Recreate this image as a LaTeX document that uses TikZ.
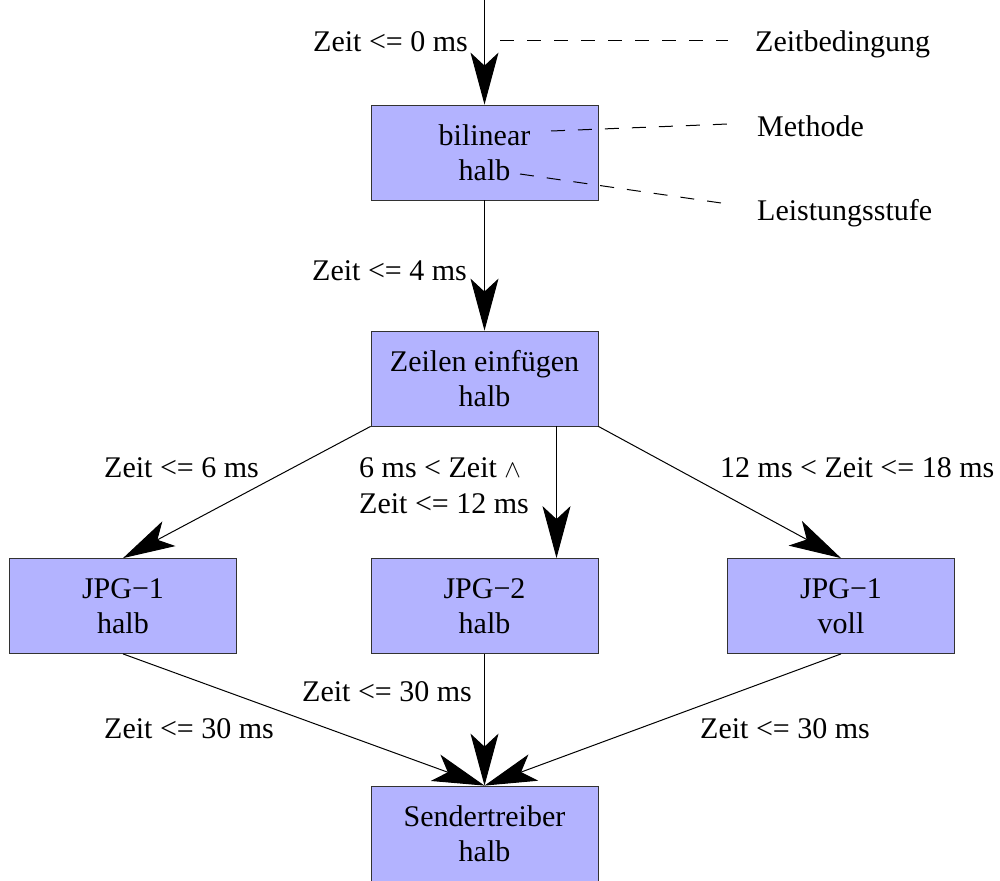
\documentclass[tikz,border=0pt]{standalone}
\usepackage{fontspec}
\setmainfont{Liberation Serif}
\usetikzlibrary{arrows.meta}
\definecolor{boxfill}{RGB}{179,179,255}
\definecolor{boxline}{RGB}{50,50,50}
\begin{document}
\begin{tikzpicture}[x=1pt,y=-1pt,
  box/.style={draw=boxline, fill=boxfill, line width=0.8pt,
    minimum width=227pt, minimum height=95pt, align=center, inner sep=0pt,
    font=\fontsize{30}{35}\selectfont},
  lbl/.style={inner sep=0pt, anchor=base west, font=\fontsize{30}{36}\selectfont},
  flow/.style={line width=1pt, -{Stealth[length=52pt,width=28pt,inset=13pt]}},
  note/.style={line width=1pt, dash pattern=on 14pt off 13pt}]
\useasboundingbox (0,0) rectangle (1000,880);

% processing steps
\node[box] (bil) at (484.5,152.5) {bilinear\\halb};
\node[box] (zei) at (484.5,378.5) {Zeilen einfügen\\halb};
\node[box] (ja)  at (123,606)     {JPG−1\\halb};
\node[box] (jb)  at (484.5,606)   {JPG−2\\halb};
\node[box] (jc)  at (841,606)     {JPG−1\\voll};
\node[box] (snd) at (484.5,833.5) {Sendertreiber\\halb};

% entry point
\coordinate (start) at (484.5,0);

% transitions
\draw[flow] (start) -- (bil.north);
\draw[flow] (bil.south) -- (zei.north);
\draw[flow] (zei.south west) -- (ja.north);
\draw[flow] ([xshift=72pt]zei.south) -- ([xshift=72pt]jb.north);
\draw[flow] (zei.south east) -- (jc.north);
\draw[flow] (ja.south) -- (snd.north);
\draw[flow] (jb.south) -- (snd.north);
\draw[flow] (jc.south) -- (snd.north);

% time conditions
\node[lbl] (t0)  at (313,52)  {Zeit <= 0 ms};
\node[lbl] (t4)  at (312,280) {Zeit <= 4 ms};
\node[lbl] (t6)  at (104,477) {Zeit <= 6 ms};
\node[lbl] (t12a) at (359,477) {6 ms < Zeit $\wedge$};
\node[lbl] (t12b) at (359,513) {Zeit <= 12 ms};
\node[lbl] (t18) at (720,477) {12 ms < Zeit <= 18 ms};
\node[lbl] (t30b) at (302,701) {Zeit <= 30 ms};
\node[lbl] (t30a) at (104,738) {Zeit <= 30 ms};
\node[lbl] (t30c) at (700,738) {Zeit <= 30 ms};

% legend
\node[lbl] (lz) at (755,52)  {Zeitbedingung};
\node[lbl] (lm) at (757,136) {Methode};
\node[lbl] (ll) at (757,220) {Leistungsstufe};

\coordinate (pz0) at (500,41);
\coordinate (pz1) at (728,41);
\coordinate (pm0) at (551,131);
\coordinate (pm1) at (728,124);
\coordinate (pl0) at (520,174);
\coordinate (pl1) at (728,204);
\draw[note] (pz0) -- (pz1);
\draw[note] (pm0) -- (pm1);
\draw[note] (pl0) -- (pl1);
\end{tikzpicture}
\end{document}
